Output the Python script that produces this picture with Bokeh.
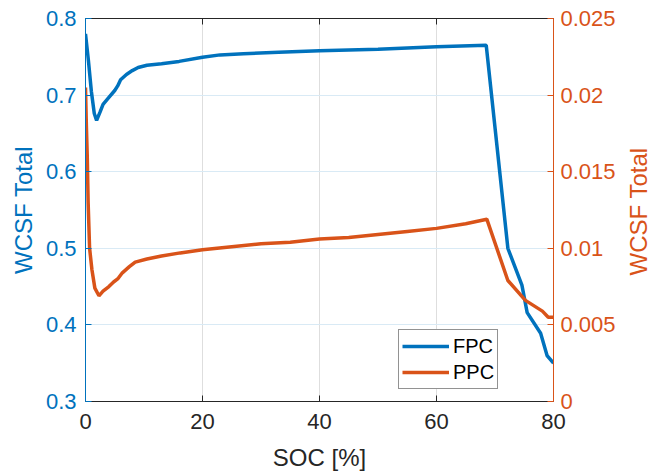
import math
from bokeh.plotting import figure
from bokeh.layouts import row, column
from bokeh.models import LinearAxis, Range1d, FixedTicker, Legend, LegendItem, Label
from bokeh.embed import file_html
from bokeh.resources import INLINE

# ---- data ----
soc_fpc = [0, 0.5, 1.0, 1.5, 1.9, 2.5, 3.0, 4.0, 5.0, 5.5, 6.0, 7.0, 8.0, 9.0, 10.5,
           13, 16, 20, 23, 27, 33, 40, 50, 60, 68.5, 72.2, 74.6, 75.5, 77.8, 78.9, 80]
wcsf_fpc = [0.780, 0.745, 0.705, 0.676, 0.667, 0.678, 0.688, 0.697, 0.706, 0.712, 0.720,
            0.727, 0.732, 0.736, 0.739, 0.741, 0.744, 0.7495, 0.7525, 0.754, 0.756, 0.758,
            0.760, 0.763, 0.765, 0.500, 0.452, 0.416, 0.389, 0.360, 0.350]

soc_ppc = [0, 0.15, 0.3, 0.45, 0.7, 1.1, 1.6, 2.3, 3.0, 4.0, 4.8, 5.5, 6.3, 7.5, 8.5,
           10.5, 13, 16.2, 20, 25, 30, 35, 40, 45, 50, 55, 60, 65, 68.6, 72.2, 75.2,
           78.1, 79.1, 80]
wcsf_ppc = [0.0205, 0.0180, 0.0160, 0.0130, 0.0100, 0.0086, 0.0074, 0.0069, 0.0072,
            0.0075, 0.0078, 0.0080, 0.0084, 0.0088, 0.0091, 0.0093, 0.0095, 0.0097,
            0.0099, 0.0101, 0.0103, 0.0104, 0.0106, 0.0107, 0.0109, 0.0111, 0.0113,
            0.0116, 0.0119, 0.0079, 0.0066, 0.0059, 0.0055, 0.0055]

x_ticks = [0, 20, 40, 60, 80]
left_ticks = [0.3, 0.4, 0.5, 0.6, 0.7, 0.8]
left_labels = ["0.3", "0.4", "0.5", "0.6", "0.7", "0.8"]
right_ticks = [0, 0.005, 0.01, 0.015, 0.02, 0.025]
right_labels = ["0", "0.005", "0.01", "0.015", "0.02", "0.025"]

x_title = "SOC [%]"
y_title = "WCSF Total"

BLUE = "#0072BD"
ORANGE = "#D95319"
DARK = "#262626"
FONT = "Liberation Sans"

MAIN_W, MAIN_H = 620, 440
TOTAL_W, TOTAL_H = 659, 472

p = figure(width=MAIN_W, height=MAIN_H, output_backend="svg", toolbar_location=None,
           x_range=Range1d(0, 80), y_range=Range1d(0.3, 0.8),
           min_border_left=85, min_border_right=67, min_border_top=18,
           min_border_bottom=39)
p.outline_line_color = None
p.background_fill_color = "white"
p.border_fill_color = "white"

p.extra_y_ranges = {"r": Range1d(0, 0.025)}

# bottom axis
xa = p.xaxis[0]
xa.ticker = FixedTicker(ticks=x_ticks)
xa.major_label_text_font = FONT
xa.major_label_text_font_size = "22px"
xa.major_label_text_color = DARK
xa.major_label_standoff = 12
xa.major_tick_in = 6
xa.major_tick_out = 0
xa.minor_tick_line_color = None
xa.axis_line_color = DARK
xa.major_tick_line_color = DARK

# left axis
ya = p.yaxis[0]
ya.ticker = FixedTicker(ticks=left_ticks)
ya.major_label_overrides = {t: l for t, l in zip(left_ticks, left_labels)}
ya.axis_label = y_title
ya.axis_label_text_font = FONT
ya.axis_label_text_font_size = "24px"
ya.axis_label_text_font_style = "normal"
ya.axis_label_text_color = BLUE
ya.axis_label_standoff = 6
ya.major_label_text_font = FONT
ya.major_label_text_font_size = "22px"
ya.major_label_text_color = BLUE
ya.major_label_standoff = 9
ya.major_tick_in = 6
ya.major_tick_out = 0
ya.minor_tick_line_color = None
ya.axis_line_color = BLUE
ya.major_tick_line_color = BLUE

# right axis
ra = LinearAxis(y_range_name="r", ticker=FixedTicker(ticks=right_ticks))
ra.major_label_overrides = {t: l for t, l in zip(right_ticks, right_labels)}
ra.major_label_text_font = FONT
ra.major_label_text_font_size = "22px"
ra.major_label_text_color = ORANGE
ra.major_label_standoff = 7
ra.major_tick_in = 6
ra.major_tick_out = 0
ra.minor_tick_line_color = None
ra.axis_line_color = ORANGE
ra.major_tick_line_color = ORANGE
p.add_layout(ra, "right")

# top axis (box line + inward ticks, no labels)
ta = LinearAxis(ticker=FixedTicker(ticks=x_ticks))
ta.major_label_text_font_size = "1px"
ta.major_label_text_color = None
ta.major_label_standoff = 0
ta.major_tick_in = 6
ta.major_tick_out = 0
ta.minor_tick_line_color = None
ta.axis_line_color = DARK
ta.major_tick_line_color = DARK
p.add_layout(ta, "above")

# grids
p.xgrid.ticker = FixedTicker(ticks=x_ticks)
p.xgrid.grid_line_color = "#dedede"
p.ygrid.ticker = FixedTicker(ticks=left_ticks)
p.ygrid.grid_line_color = "#d9eaf5"

r1 = p.line(soc_fpc, wcsf_fpc, line_color=BLUE, line_width=3.5)
r2 = p.line(soc_ppc, wcsf_ppc, line_color=ORANGE, line_width=3.5, y_range_name="r")

legend = Legend(items=[LegendItem(label="FPC", renderers=[r1]),
                       LegendItem(label="PPC", renderers=[r2])],
                location=(313, 12), margin=0, padding=3, spacing=0,
                glyph_width=47, glyph_height=26, label_height=26,
                label_standoff=4,
                label_text_font=FONT, label_text_font_size="20px",
                label_text_color="black",
                border_line_color=DARK, border_line_width=1,
                background_fill_color="white", background_fill_alpha=1.0)
p.add_layout(legend, "center")


def blank(w, h):
    f = figure(width=w, height=h, output_backend="svg", toolbar_location=None,
               x_axis_type=None, y_axis_type=None, min_border=0,
               x_range=Range1d(0, 1), y_range=Range1d(0, 1))
    f.outline_line_color = None
    f.grid.visible = False
    f.background_fill_color = "white"
    f.border_fill_color = "white"
    return f


# right-hand axis title (reads bottom to top, like the reference)
rt = blank(TOTAL_W - MAIN_W, MAIN_H)
rt.add_layout(Label(x=18, y=190, x_units="screen", y_units="screen",
                    text=y_title, angle=math.pi / 2, text_font=FONT,
                    text_font_size="24px", text_color=ORANGE,
                    text_align="center", text_baseline="middle"))

# x-axis title strip under the plot
bt = blank(TOTAL_W, TOTAL_H - MAIN_H)
bt.add_layout(Label(x=319, y=15, x_units="screen", y_units="screen",
                    text=x_title, text_font=FONT, text_font_size="24px",
                    text_color=DARK, text_align="center",
                    text_baseline="middle"))

layout = column(row(p, rt), bt)

open("out.html", "w").write(file_html(layout, INLINE))
